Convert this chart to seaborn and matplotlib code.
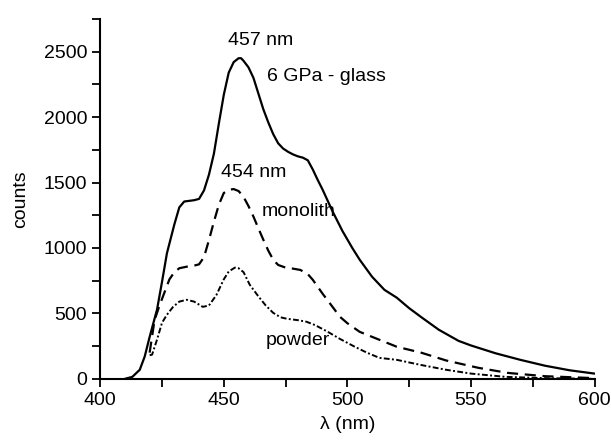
import matplotlib
matplotlib.use("Agg")
import matplotlib.pyplot as plt
from matplotlib.ticker import MultipleLocator
import seaborn as sns

# emission spectra (wavelength in nm, counts)
glass_wl = [410, 413, 416, 418, 420, 423, 425, 427, 430, 432, 434, 436, 438, 440,
            442, 444, 446, 448, 450, 452, 454, 456, 457, 458, 460, 462, 464, 466,
            468, 470, 472, 474, 476, 478, 480, 482, 484, 486, 488, 490, 494, 498,
            502, 505, 510, 515, 520, 525, 530, 537, 545, 550, 560, 566, 570, 580,
            590, 600]
glass_counts = [0, 15, 69, 170, 320, 530, 740, 960, 1180, 1310, 1355, 1360, 1365, 1375,
                1440, 1560, 1720, 1950, 2170, 2340, 2420, 2450, 2450, 2430, 2380, 2300, 2180, 2060,
                1960, 1870, 1800, 1760, 1735, 1715, 1700, 1690, 1670, 1600, 1520, 1445, 1280, 1130,
                1000, 910, 780, 680, 620, 540, 470, 375, 290, 255, 195, 165, 145, 100,
                65, 40]

monolith_wl = [420, 422, 424, 426, 428, 430, 432, 435, 438, 440, 442, 444, 446, 448,
               450, 452, 454, 456, 458, 460, 462, 464, 466, 468, 470, 472, 475, 478,
               481, 484, 486, 490, 494, 497, 500, 505, 513, 520, 530, 540, 553, 565,
               580, 600]
monolith_counts = [200, 450, 560, 660, 760, 815, 845, 857, 865, 875, 930, 1060, 1200, 1330,
                   1420, 1445, 1450, 1435, 1390, 1320, 1240, 1150, 1063, 980, 910, 870, 850, 842,
                   832, 800, 757, 650, 550, 474, 425, 359, 298, 245, 199, 140, 84, 45,
                   20, 5]

powder_wl = [420, 421, 423, 425, 427, 429.5, 432, 435, 438, 441.5, 444, 447, 450, 452,
             454.5, 456, 458, 460.5, 464, 467, 470, 473, 475.5, 480, 483.5, 487, 492, 497,
             503, 508, 513, 520, 530, 540, 550, 564, 580, 600]
powder_counts = [180, 185, 300, 428, 490, 550, 590, 604, 590, 550, 560, 640, 760, 820,
                 850, 845, 815, 719, 630, 560, 504, 470, 459, 448, 436, 410, 360, 305,
                 245, 199, 160, 145, 105, 69, 40, 15, 5, 0]

sns.set_style("ticks")
plt.rcParams['font.family'] = ['Liberation Sans', 'DejaVu Sans']
plt.rcParams['text.color'] = 'black'
plt.rcParams['axes.labelcolor'] = 'black'

fs = 14

fig = plt.figure(figsize=(6.11, 4.41), dpi=100)
ax = fig.add_axes([0.164, 0.141, 0.809, 0.816])

sns.lineplot(x=glass_wl, y=glass_counts, ax=ax, color='black', lw=1.6)
sns.lineplot(x=monolith_wl, y=monolith_counts, ax=ax, color='black', lw=1.6,
             linestyle=(0, (5, 3)))
sns.lineplot(x=powder_wl, y=powder_counts, ax=ax, color='black', lw=1.4,
             linestyle=(0, (3, 1.2, 1, 1.2)))

ax.set_xlim(400, 600)
ax.set_ylim(0, 2750)
ax.xaxis.set_major_locator(MultipleLocator(50))
ax.xaxis.set_minor_locator(MultipleLocator(25))
ax.yaxis.set_major_locator(MultipleLocator(500))
ax.yaxis.set_minor_locator(MultipleLocator(250))
ax.tick_params(which='both', direction='out', width=1.3, length=6,
               colors='black', labelsize=fs)
for s in ['left', 'bottom']:
    ax.spines[s].set_linewidth(1.5)
    ax.spines[s].set_color('black')
sns.despine(ax=ax)

ax.set_xlabel("λ (nm)", fontsize=fs, labelpad=5)
ax.set_ylabel("counts", fontsize=fs, labelpad=10)

ax.text(465, 2584, "457 nm", fontsize=fs, ha='center', va='center')
ax.text(467.5, 2309, "6 GPa - glass", fontsize=fs, ha='left', va='center')
ax.text(462, 1575, "454 nm", fontsize=fs, ha='center', va='center')
ax.text(465.3, 1277, "monolith", fontsize=fs, ha='left', va='center')
ax.text(466.9, 290, "powder", fontsize=fs, ha='left', va='center')

fig.savefig("out.png", dpi=100)
